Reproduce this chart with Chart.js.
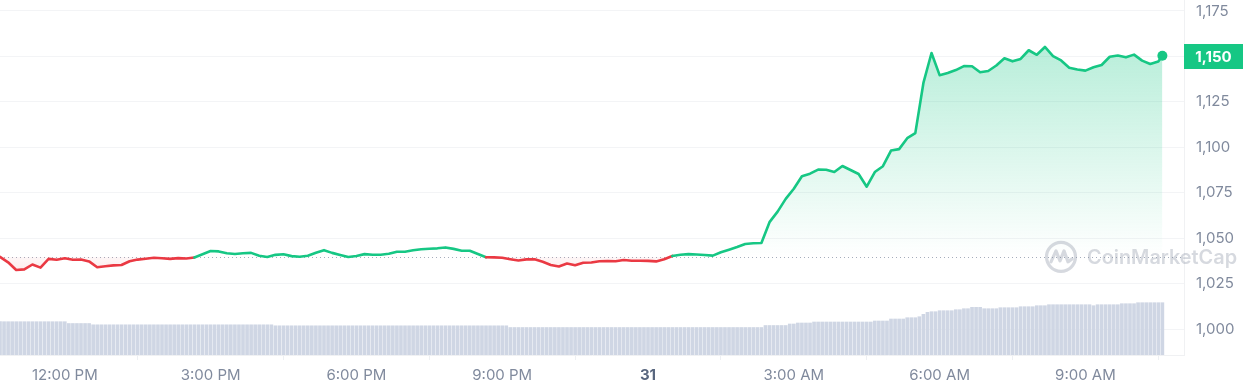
<!DOCTYPE html>
<html>
<head>
<meta charset="utf-8">
<script src="https://cdn.jsdelivr.net/npm/chart.js@4.4.1/dist/chart.umd.min.js"></script>
<style>
  html, body { margin: 0; padding: 0; background: #ffffff; }
  #wrap { width: 1247px; height: 390px; position: relative; }
</style>
</head>
<body>
<div id="wrap"><canvas id="c" width="1247" height="390"></canvas></div>
<script>
// ---- Data (minutes after 10:40 AM) ----
const priceStepMinutes = 10;
const lastPriceMinute = 1435;
const price = [
  1039.7, 1036.7, 1032.5, 1032.8, 1035.5, 1033.8, 1038.6, 1038.1, 1038.9, 1038.1,
  1038.2, 1037.2, 1034.0, 1034.5, 1035.0, 1035.2, 1037.3, 1038.2, 1038.7, 1039.2,
  1038.9, 1038.6, 1039.0, 1038.8, 1039.4, 1041.1, 1042.9, 1042.7, 1041.7, 1041.3,
  1041.7, 1041.9, 1040.3, 1039.6, 1040.8, 1041.1, 1040.1, 1039.8, 1040.3, 1042.0,
  1043.4, 1041.9, 1040.7, 1039.6, 1040.2, 1041.2, 1040.9, 1040.9, 1041.4, 1042.5,
  1042.5, 1043.3, 1043.9, 1044.2, 1044.4, 1044.9, 1044.1, 1043.1, 1043.1, 1041.3,
  1039.5, 1039.4, 1039.2, 1038.4, 1037.7, 1038.3, 1038.4, 1037.0, 1035.2, 1034.4,
  1036.0, 1035.1, 1036.5, 1036.6, 1037.3, 1037.4, 1037.3, 1038.0, 1037.6, 1037.6,
  1037.5, 1037.2, 1038.4, 1040.2, 1040.9, 1041.2, 1041.0, 1040.7, 1040.4, 1042.2,
  1043.6, 1045.1, 1046.8, 1047.2, 1047.3, 1058.8, 1064.6, 1071.6, 1077.2, 1084.1,
  1085.5, 1087.7, 1087.6, 1086.4, 1089.7, 1087.5, 1085.3, 1078.3, 1086.4, 1089.6,
  1098.2, 1099.0, 1105.0, 1107.8, 1135.4, 1151.9, 1139.7, 1140.9, 1142.5, 1144.7,
  1144.6, 1141.3, 1142.0, 1145.0, 1149.0, 1147.3, 1148.6, 1153.4, 1150.9, 1155.2,
  1150.2, 1147.8, 1143.8, 1142.8, 1142.2, 1144.0, 1145.3, 1149.8, 1150.5, 1149.5,
  1151.0, 1147.7, 1145.8, 1147.2, 1150.4
];
const baselinePrice = 1039.7;

// 24h volume, one bar every 5 minutes ($M)
const volumeStepMinutes = 5;
const volume = [
  333,333,333,333,333,333,333,333,333,333,333,333,333,333,333,333,333,
  315,315,315,315,315,315,
  302,302,302,302,302,302,302,302,302,302,302,302,302,302,302,302,302,302,302,302,
  302,302,302,302,302,302,302,302,302,302,302,302,302,302,302,302,302,302,302,302,
  302,302,302,302,302,
  292,292,292,292,292,292,292,292,292,292,292,292,292,292,292,292,292,292,292,292,
  292,292,292,292,292,292,292,292,292,292,292,292,292,292,292,292,292,292,292,292,
  292,292,292,292,292,292,292,292,292,292,292,292,292,292,292,292,292,292,
  275,275,275,275,275,275,275,275,275,275,275,275,275,275,275,275,275,275,275,275,
  275,275,275,275,275,275,275,275,275,275,275,275,275,275,275,275,275,275,275,275,
  275,275,275,275,275,275,275,275,275,275,275,275,275,275,275,275,275,275,275,275,
  275,275,275,
  295,295,295,295,295,295,
  310,310,
  320,320,320,320,
  330,330,330,330,330,330,330,330,330,330,330,330,330,330,330,
  340,340,340,340,
  360,360,360,360,
  373,373,373,
  383,
  407,
  427,
  433,433,
  443,443,443,443,
  453,453,
  463,463,
  477,477,477,
  463,463,463,463,
  473,473,473,473,473,
  483,483,483,483,
  493,493,493,
  503,503,503,503,503,503,503,503,503,503,503,
  493,
  503,503,503,503,503,503,
  513,513,513,513,
  523,523,523,523,523,523,523
];

const xTickMinutes = [80, 260, 440, 620, 800, 980, 1160, 1340];
const xTickLabels = ['12:00 PM', '3:00 PM', '6:00 PM', '9:00 PM', '31', '3:00 AM', '6:00 AM', '9:00 AM'];
const yTicks = [1000, 1025, 1050, 1075, 1100, 1125, 1150, 1175];

// ---- Styling ----
const GREEN = '#16c784';
const RED = '#ea3943';
const GREY = '#808a9d';
const FONT = 'Inter, "Noto Sans", sans-serif';

const pricePoints = price.map((v, i) => ({
  x: i === price.length - 1 ? lastPriceMinute : i * priceStepMinutes,
  y: v
}));
const volumePoints = volume.map((v, i) => ({ x: i * volumeStepMinutes, y: v }));

function isDayTick(c) {
  if (!c || !c.tick) return false;
  return xTickLabels[xTickMinutes.indexOf(c.tick.value)] === '31';
}

function fillGradient(chart) {
  const { ctx, chartArea, scales } = chart;
  if (!chartArea || !scales.y) return 'rgba(22,199,132,0.1)';
  const top = scales.y.getPixelForValue(Math.max(...price));
  const base = scales.y.getPixelForValue(baselinePrice);
  const bottom = scales.y.getPixelForValue(Math.min(...price));
  const g = ctx.createLinearGradient(0, top, 0, bottom);
  const span = bottom - top;
  const b = Math.min(0.998, Math.max(0.002, (base - top) / span));
  g.addColorStop(0, 'rgba(22,199,132,0.30)');
  g.addColorStop(b - 0.001, 'rgba(22,199,132,0.0)');
  g.addColorStop(b + 0.001, 'rgba(234,57,67,0.04)');
  g.addColorStop(1, 'rgba(234,57,67,0.10)');
  return g;
}

const overlayPlugin = {
  id: 'overlay',
  beforeDatasetsDraw(chart) {
    const { ctx, chartArea, scales } = chart;
    const y = Math.round(scales.y.getPixelForValue(baselinePrice)) + 0.5;
    ctx.save();
    ctx.strokeStyle = '#a5adbb';
    ctx.lineWidth = 1;
    ctx.setLineDash([1, 3]);
    ctx.beginPath();
    ctx.moveTo(chartArea.left, y);
    ctx.lineTo(chartArea.right, y);
    ctx.stroke();
    ctx.restore();
  },
  afterDraw(chart) {
    const { ctx, chartArea, scales } = chart;
    // watermark
    ctx.save();
    const wy = scales.y.getPixelForValue(baselinePrice);
    const cx = 1061, cy = wy;
    ctx.strokeStyle = 'rgba(128,138,157,0.32)';
    ctx.lineWidth = 3.2;
    ctx.lineJoin = 'round';
    ctx.lineCap = 'round';
    ctx.beginPath();
    ctx.arc(cx, cy, 14.5, 0, Math.PI * 2);
    ctx.stroke();
    ctx.beginPath();
    ctx.moveTo(cx - 10, cy + 5);
    ctx.lineTo(cx - 5, cy - 6);
    ctx.lineTo(cx - 1, cy + 4);
    ctx.lineTo(cx + 3, cy - 6);
    ctx.lineTo(cx + 7, cy + 5);
    ctx.lineTo(cx + 11, cy + 2);
    ctx.stroke();
    ctx.fillStyle = 'rgba(128,138,157,0.32)';
    ctx.font = '600 20px ' + FONT;
    const w = ctx.measureText('CoinMarketCap').width;
    const fs = 20 * 150 / w;
    ctx.font = '600 ' + fs.toFixed(2) + 'px ' + FONT;
    ctx.textBaseline = 'middle';
    ctx.textAlign = 'left';
    ctx.fillText('CoinMarketCap', 1087, cy + 1);
    ctx.restore();

    // current price tag
    const last = price[price.length - 1];
    const py = scales.y.getPixelForValue(last);
    ctx.save();
    ctx.fillStyle = GREEN;
    ctx.fillRect(chartArea.right, Math.round(py) - 12, 59, 25);
    ctx.fillStyle = '#ffffff';
    ctx.font = '700 15px ' + FONT;
    ctx.textAlign = 'center';
    ctx.textBaseline = 'middle';
    ctx.fillText(Math.round(last).toLocaleString('en-US'), chartArea.right + 29.5, Math.round(py) + 1);
    ctx.restore();
  }
};

new Chart(document.getElementById('c'), {
  data: {
    datasets: [
      {
        type: 'line',
        label: 'Price',
        data: pricePoints,
        yAxisID: 'y',
        order: 0,
        borderWidth: 2.6,
        tension: 0,
        borderJoinStyle: 'round',
        borderCapStyle: 'round',
        borderColor: GREEN,
        segment: {
          borderColor: (c) => ((c.p0.parsed.y + c.p1.parsed.y) / 2 >= baselinePrice ? GREEN : RED)
        },
        backgroundColor: (c) => fillGradient(c.chart),
        fill: { target: { value: baselinePrice } },
        pointRadius: (c) => (c.dataIndex === price.length - 1 ? 5 : 0),
        pointBackgroundColor: GREEN,
        pointBorderWidth: 0,
        pointHoverRadius: 0
      },
      {
        type: 'bar',
        label: 'Volume',
        data: volumePoints,
        yAxisID: 'vol',
        order: 1,
        backgroundColor: '#cfd6e4',
        borderWidth: 0,
        barThickness: 3
      }
    ]
  },
  options: {
    responsive: false,
    animation: false,
    devicePixelRatio: 1,
    layout: { padding: 0, autoPadding: false },
    plugins: { legend: { display: false }, tooltip: { enabled: false } },
    scales: {
      x: {
        type: 'linear',
        min: 0,
        max: 1461.7,
        offset: false,
        afterBuildTicks: (s) => { s.ticks = xTickMinutes.map(v => ({ value: v })); },
        afterFit: (s) => { s.height = 35; s.paddingLeft = 0; s.paddingRight = 0; },
        grid: { drawOnChartArea: false, drawTicks: true, tickLength: 5, color: '#eef0f3' },
        border: { display: true, color: '#f0f1f3' },
        ticks: {
          autoSkip: false,
          maxRotation: 0,
          padding: 6,
          color: (c) => (isDayTick(c) ? '#58667e' : GREY),
          font: (c) => ({ family: FONT, size: 15, weight: isDayTick(c) ? '700' : '400' }),
          callback: (v) => { const i = xTickMinutes.indexOf(v); return i >= 0 ? xTickLabels[i] : ''; }
        }
      },
      y: {
        type: 'linear',
        position: 'right',
        min: 985.7,
        max: 1181.05,
        afterBuildTicks: (s) => { s.ticks = yTicks.map(v => ({ value: v })); },
        afterFit: (s) => { s.width = 63; s.paddingTop = 0; s.paddingBottom = 0; },
        grid: { color: '#f3f4f6', drawTicks: false },
        border: { display: true, color: '#f0f1f3' },
        ticks: {
          padding: 12,
          color: GREY,
          font: { family: FONT, size: 15 },
          callback: (v) => Number(v).toLocaleString('en-US')
        }
      },
      vol: {
        type: 'linear',
        display: false,
        min: 0,
        max: 3550
      }
    }
  },
  plugins: [overlayPlugin]
});
</script>
</body>
</html>
